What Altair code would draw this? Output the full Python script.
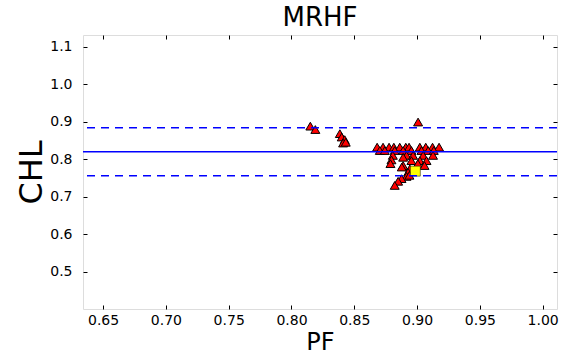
import altair as alt
import pandas as pd

# --- data ---
pf = [0.815, 0.819, 0.8385, 0.840, 0.8424, 0.8411, 0.8432, 0.9008,
      0.8682, 0.8729, 0.8777, 0.8815, 0.8862, 0.8910, 0.8936, 0.9022, 0.9069, 0.9123, 0.9175,
      0.8703, 0.8743, 0.8822, 0.8889, 0.8955, 0.9035, 0.9088, 0.9133,
      0.8807, 0.8916, 0.8968, 0.9048, 0.9127,
      0.8796, 0.8788, 0.8889, 0.8955, 0.9022, 0.9075, 0.8889, 0.8942, 0.8928,
      0.8916, 0.8876, 0.8849, 0.8822, 0.8878, 0.9006, 0.9059, 0.8939]
chl = [0.888, 0.879, 0.868, 0.859, 0.852, 0.843, 0.845, 0.899,
       0.832, 0.832, 0.832, 0.832, 0.832, 0.832, 0.832, 0.832, 0.832, 0.832, 0.832,
       0.823, 0.823, 0.823, 0.823, 0.823, 0.823, 0.823, 0.823,
       0.810, 0.810, 0.810, 0.810, 0.810,
       0.798, 0.788, 0.805, 0.796, 0.796, 0.796, 0.783, 0.774, 0.765,
       0.754, 0.748, 0.741, 0.730, 0.779, 0.788, 0.783, 0.757]
ref_pf = [0.8986]
ref_chl = [0.768]
mean_chl = 0.820
band_chl = [0.884, 0.756]

x_ticks = [0.65, 0.70, 0.75, 0.80, 0.85, 0.90, 0.95, 1.00]
y_ticks = [0.5, 0.6, 0.7, 0.8, 0.9, 1.0, 1.1]
x_dom = [0.634, 1.0114]
y_dom = [0.4005, 1.131]

pts = pd.DataFrame({"PF": pf, "CHL": chl})
ref = pd.DataFrame({"PF": ref_pf, "CHL": ref_chl})
mean_df = pd.DataFrame({"CHL": [mean_chl]})
band_df = pd.DataFrame({"CHL": band_chl})

FONT = "DejaVu Sans"

xs = alt.Scale(domain=x_dom, nice=False, zero=False)
ys = alt.Scale(domain=y_dom, nice=False, zero=False)

tri = alt.Chart(pts).mark_point(
    shape="triangle-up", filled=True, fill="#ff0000", stroke="black",
    strokeWidth=1, size=80, opacity=1
).encode(
    x=alt.X("PF:Q", scale=xs, title="PF",
            axis=alt.Axis(values=x_ticks, format=".2f", orient="bottom", offset=-4,
                          tickSize=4, domain=False, grid=False, labelPadding=4,
                          labelFontSize=14, titleFontSize=24, titleFontWeight="normal",
                          titlePadding=3, labelColor="black", titleColor="black",
                          tickColor="black", labelFont=FONT, titleFont=FONT)),
    y=alt.Y("CHL:Q", scale=ys, title="CHL",
            axis=alt.Axis(values=y_ticks, format=".1f", orient="left", offset=-4,
                          tickSize=4, domain=False, grid=False, labelPadding=11,
                          labelFontSize=14, titleFontSize=32, titleFontWeight="normal",
                          titlePadding=1, labelColor="black", titleColor="black",
                          tickColor="black", labelFont=FONT, titleFont=FONT)),
)

sq = alt.Chart(ref).mark_point(
    shape="square", filled=True, fill="#ffff00", stroke="black",
    strokeWidth=0.5, size=100, opacity=1
).encode(
    x=alt.X("PF:Q", scale=xs, title=None,
            axis=alt.Axis(values=x_ticks, orient="top", offset=-4, tickSize=4,
                          domain=False, grid=False, labels=False, tickColor="black")),
    y=alt.Y("CHL:Q", scale=ys, title=None,
            axis=alt.Axis(values=y_ticks, orient="right", offset=-4, tickSize=4,
                          domain=False, grid=False, labels=False, tickColor="black")),
)

mean_line = alt.Chart(mean_df).mark_rule(stroke="#0000ff", strokeWidth=1.5,
                                         strokeOpacity=1).encode(
    y=alt.Y("CHL:Q", scale=ys, axis=None)
)
band_lines = alt.Chart(band_df).mark_rule(
    stroke="#0000ff", strokeWidth=1.5, strokeDash=[8, 6], strokeOpacity=1
).encode(
    y=alt.Y("CHL:Q", scale=ys, axis=None)
)

chart = alt.layer(tri, sq, mean_line, band_lines).resolve_scale(
    x="independent", y="independent"
).properties(
    width=474, height=274,
    title=alt.TitleParams("MRHF", fontSize=26, font=FONT, fontWeight="normal",
                          anchor="middle", offset=4, color="black"),
    autosize=alt.AutoSizeParams(type="none"),
    padding={"left": 83, "top": 35, "right": 20, "bottom": 49},
).configure_view(
    stroke="black", strokeWidth=1
).configure(background="white")

chart.save("out.html", embed_options={"renderer": "svg", "actions": False})
